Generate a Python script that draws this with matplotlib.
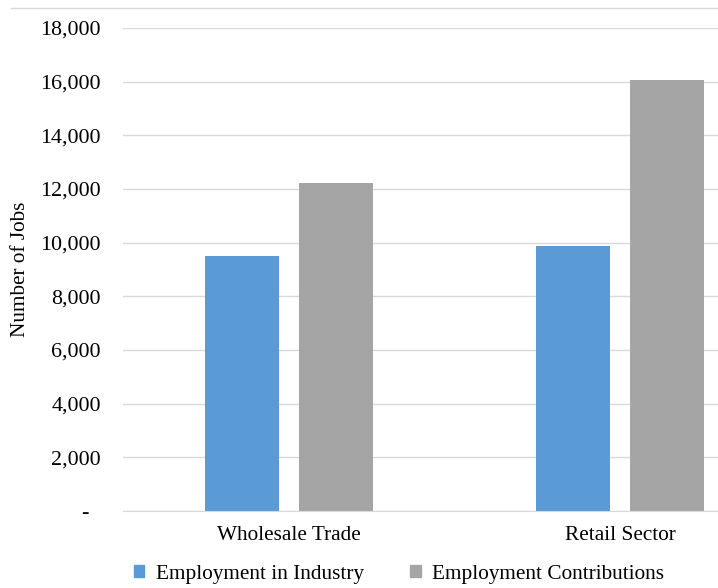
import matplotlib
matplotlib.use("Agg")
import matplotlib.pyplot as plt
import numpy as np
from matplotlib.lines import Line2D

categories = ["Wholesale Trade", "Retail Sector"]
series_names = ["Employment in Industry", "Employment Contributions"]
industry = [9500, 9890]
contributions = [12220, 16060]
yticks = [0, 2000, 4000, 6000, 8000, 10000, 12000, 14000, 16000, 18000]
ytick_labels = ["-  ", "2,000", "4,000", "6,000", "8,000", "10,000", "12,000", "14,000", "16,000", "18,000"]

plt.rcParams['font.family'] = ['Liberation Serif', 'DejaVu Serif']

W, H = 718, 588
fig = plt.figure(figsize=(W / 100, H / 100), dpi=100)
ax_left, ax_right = 123 / W, 1.0
ax_bottom, ax_top = 1 - 511 / H, 1 - 28 / H
ax = fig.add_axes([ax_left, ax_bottom, ax_right - ax_left, ax_top - ax_bottom])

x = np.arange(len(categories))
w = 0.2236
off = 0.142
c1, c2 = "#5B9BD5", "#A5A5A5"
ax.bar(x - off, industry, width=w, color=c1, zorder=3)
ax.bar(x + off, contributions, width=w, color=c2, zorder=3)

fs = 15.3
ax.set_xlim(-0.5, 1.296)
ax.set_ylim(0, 18000)
ax.set_yticks(yticks)
ax.set_yticklabels(ytick_labels, fontsize=15.8)
ax.set_xticks(x)
ax.set_xticklabels(categories, fontsize=fs)
ax.tick_params(axis='both', length=0)
ax.tick_params(axis='y', pad=16)
ax.tick_params(axis='x', pad=11)
ax.grid(axis='y', color="#d9d9d9", linewidth=1, zorder=0)
for s in ["top", "right", "left"]:
    ax.spines[s].set_visible(False)
ax.spines["bottom"].set_color("#d9d9d9")
ax.spines["bottom"].set_zorder(4)
ax.set_ylabel("Number of Jobs", fontsize=fs)
ax.yaxis.set_label_coords(-(123 - 30) / (W - 123), 0.5)

# top border line of the chart frame
fig.add_artist(Line2D([11 / W, 1.0], [1 - 8 / H, 1 - 8 / H], color="#d9d9d9", linewidth=1))

handles = [plt.Rectangle((0, 0), 1, 1, color=c1), plt.Rectangle((0, 0), 1, 1, color=c2)]
fig.legend(handles, series_names, loc="center", bbox_to_anchor=(399 / W, 1 - 574 / H),
           ncol=2, frameon=False, fontsize=fs, handlelength=0.5, handleheight=0.5,
           handletextpad=0.54, columnspacing=2.2)

fig.savefig("out.png", dpi=100)
